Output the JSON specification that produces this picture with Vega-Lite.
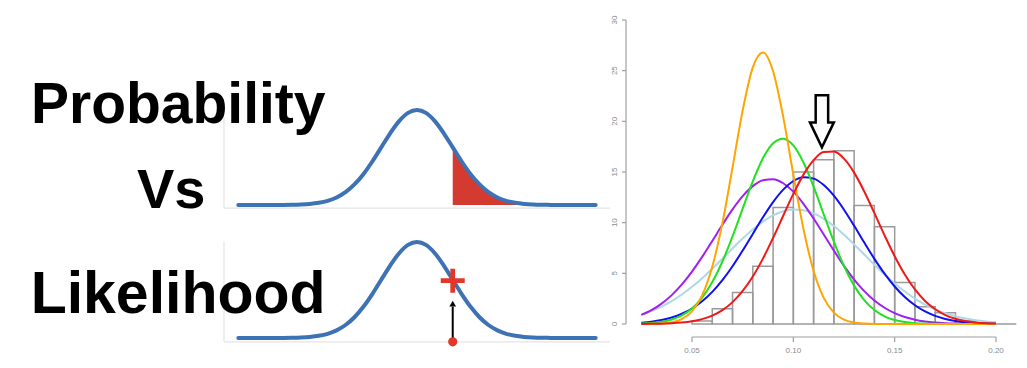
{
  "$schema": "https://vega.github.io/schema/vega-lite/v6.json",
  "width": 1027,
  "height": 368,
  "autosize": {"type": "fit", "contains": "padding"},
  "padding": 0,
  "background": "white",
  "config": {
    "view": {"stroke": null},
    "axis": {"grid": false}
  },
  "datasets": {
    "normal": [
      {"z": -5, "p": 0}, {"z": -4.75, "p": 0}, {"z": -4.5, "p": 0}, {"z": -4.25, "p": 0.0001},
      {"z": -4, "p": 0.0001}, {"z": -3.75, "p": 0.0004}, {"z": -3.5, "p": 0.0009}, {"z": -3.25, "p": 0.002},
      {"z": -3, "p": 0.0044}, {"z": -2.75, "p": 0.0091}, {"z": -2.5, "p": 0.0175}, {"z": -2.25, "p": 0.0317},
      {"z": -2, "p": 0.054}, {"z": -1.75, "p": 0.0863}, {"z": -1.5, "p": 0.1295}, {"z": -1.25, "p": 0.1826},
      {"z": -1, "p": 0.242}, {"z": -0.75, "p": 0.3011}, {"z": -0.5, "p": 0.3521}, {"z": -0.25, "p": 0.3867},
      {"z": 0, "p": 0.3989},
      {"z": 0.25, "p": 0.3867}, {"z": 0.5, "p": 0.3521}, {"z": 0.75, "p": 0.3011}, {"z": 1, "p": 0.242},
      {"z": 1.25, "p": 0.1826}, {"z": 1.5, "p": 0.1295}, {"z": 1.75, "p": 0.0863}, {"z": 2, "p": 0.054},
      {"z": 2.25, "p": 0.0317}, {"z": 2.5, "p": 0.0175}, {"z": 2.75, "p": 0.0091}, {"z": 3, "p": 0.0044},
      {"z": 3.25, "p": 0.002}, {"z": 3.5, "p": 0.0009}, {"z": 3.75, "p": 0.0004}, {"z": 4, "p": 0.0001},
      {"z": 4.25, "p": 0.0001}, {"z": 4.5, "p": 0}, {"z": 4.75, "p": 0}, {"z": 5, "p": 0}
    ],
    "hist": [
      {"x0": 0.05, "x1": 0.06, "d": 0.3}, {"x0": 0.06, "x1": 0.07, "d": 1.5},
      {"x0": 0.07, "x1": 0.08, "d": 3.1}, {"x0": 0.08, "x1": 0.09, "d": 5.7},
      {"x0": 0.09, "x1": 0.10, "d": 11.5}, {"x0": 0.10, "x1": 0.11, "d": 15.0},
      {"x0": 0.11, "x1": 0.12, "d": 16.2}, {"x0": 0.12, "x1": 0.13, "d": 17.1},
      {"x0": 0.13, "x1": 0.14, "d": 11.7}, {"x0": 0.14, "x1": 0.15, "d": 9.6},
      {"x0": 0.15, "x1": 0.16, "d": 4.1}, {"x0": 0.16, "x1": 0.17, "d": 1.7},
      {"x0": 0.17, "x1": 0.18, "d": 1.1}, {"x0": 0.18, "x1": 0.19, "d": 0.3},
      {"x0": 0.19, "x1": 0.20, "d": 0}, {"x0": 0.20, "x1": 0.21, "d": 0}
    ],
    "xticks": [
      {"v": 0.05, "lab": "0.05"}, {"v": 0.10, "lab": "0.10"}, {"v": 0.15, "lab": "0.15"}, {"v": 0.20, "lab": "0.20"}
    ],
    "yticks": [
      {"v": 0, "lab": "0"}, {"v": 5, "lab": "5"}, {"v": 10, "lab": "10"}, {"v": 15, "lab": "15"},
      {"v": 20, "lab": "20"}, {"v": 25, "lab": "25"}, {"v": 30, "lab": "30"}
    ],
    "fits": [
      {"x": 0.025, "orange": 0.003, "green": 0.044, "red": 0.007, "blue": 0.133, "purple": 0.900, "lightblue": 0.930},
      {"x": 0.030, "orange": 0.013, "green": 0.101, "red": 0.016, "blue": 0.232, "purple": 1.368, "lightblue": 1.278},
      {"x": 0.035, "orange": 0.049, "green": 0.219, "red": 0.034, "blue": 0.392, "purple": 2.008, "lightblue": 1.718},
      {"x": 0.040, "orange": 0.164, "green": 0.447, "red": 0.071, "blue": 0.640, "purple": 2.850, "lightblue": 2.260},
      {"x": 0.045, "orange": 0.481, "green": 0.856, "red": 0.141, "blue": 1.008, "purple": 3.905, "lightblue": 2.912},
      {"x": 0.050, "orange": 1.241, "green": 1.540, "red": 0.266, "blue": 1.530, "purple": 5.172, "lightblue": 3.669},
      {"x": 0.055, "orange": 2.825, "green": 2.604, "red": 0.482, "blue": 2.243, "purple": 6.621, "lightblue": 4.525},
      {"x": 0.060, "orange": 5.655, "green": 4.134, "red": 0.830, "blue": 3.174, "purple": 8.192, "lightblue": 5.461},
      {"x": 0.065, "orange": 9.959, "green": 6.167, "red": 1.370, "blue": 4.328, "purple": 9.791, "lightblue": 6.450},
      {"x": 0.070, "orange": 15.45, "green": 8.641, "red": 2.160, "blue": 5.704, "purple": 11.31, "lightblue": 7.456},
      {"x": 0.075, "orange": 21.08, "green": 11.38, "red": 3.258, "blue": 7.253, "purple": 12.62, "lightblue": 8.433},
      {"x": 0.080, "orange": 25.33, "green": 14.07, "red": 4.689, "blue": 8.891, "purple": 13.61, "lightblue": 9.335},
      {"x": 0.085, "orange": 26.79, "green": 16.35, "red": 6.454, "blue": 10.53, "purple": 14.18, "lightblue": 10.11},
      {"x": 0.090, "orange": 24.95, "green": 17.84, "red": 8.494, "blue": 12.03, "purple": 14.28, "lightblue": 10.72},
      {"x": 0.095, "orange": 20.44, "green": 18.29, "red": 10.68, "blue": 13.26, "purple": 13.89, "lightblue": 11.13},
      {"x": 0.100, "orange": 14.75, "green": 17.62, "red": 12.84, "blue": 14.11, "purple": 13.06, "lightblue": 11.30},
      {"x": 0.105, "orange": 9.37, "green": 15.94, "red": 14.74, "blue": 14.49, "purple": 11.86, "lightblue": 11.22},
      {"x": 0.110, "orange": 5.23, "green": 13.55, "red": 16.18, "blue": 14.35, "purple": 10.41, "lightblue": 10.91},
      {"x": 0.115, "orange": 2.58, "green": 10.82, "red": 16.98, "blue": 13.72, "purple": 8.834, "lightblue": 10.38},
      {"x": 0.120, "orange": 1.12, "green": 8.118, "red": 17.02, "blue": 12.66, "purple": 7.240, "lightblue": 9.666},
      {"x": 0.125, "orange": 0.425, "green": 5.720, "red": 16.32, "blue": 11.28, "purple": 5.734, "lightblue": 8.807},
      {"x": 0.130, "orange": 0.143, "green": 3.788, "red": 14.94, "blue": 9.687, "purple": 4.390, "lightblue": 7.854},
      {"x": 0.135, "orange": 0.042, "green": 2.355, "red": 13.08, "blue": 8.033, "purple": 3.245, "lightblue": 6.853},
      {"x": 0.140, "orange": 0.011, "green": 1.376, "red": 10.94, "blue": 6.429, "purple": 2.319, "lightblue": 5.853},
      {"x": 0.145, "orange": 0.003, "green": 0.755, "red": 8.753, "blue": 4.965, "purple": 1.602, "lightblue": 4.892},
      {"x": 0.150, "orange": 0.001, "green": 0.389, "red": 6.688, "blue": 3.699, "purple": 1.068, "lightblue": 4.001},
      {"x": 0.155, "orange": 0, "green": 0.189, "red": 4.886, "blue": 2.659, "purple": 0.689, "lightblue": 3.202},
      {"x": 0.160, "orange": 0, "green": 0.086, "red": 3.410, "blue": 1.846, "purple": 0.429, "lightblue": 2.509},
      {"x": 0.165, "orange": 0, "green": 0.037, "red": 2.273, "blue": 1.236, "purple": 0.258, "lightblue": 1.922},
      {"x": 0.170, "orange": 0, "green": 0.015, "red": 1.451, "blue": 0.799, "purple": 0.150, "lightblue": 1.443},
      {"x": 0.175, "orange": 0, "green": 0.006, "red": 0.884, "blue": 0.499, "purple": 0.084, "lightblue": 1.058},
      {"x": 0.180, "orange": 0, "green": 0.002, "red": 0.515, "blue": 0.300, "purple": 0.046, "lightblue": 0.759},
      {"x": 0.185, "orange": 0, "green": 0, "red": 0.286, "blue": 0.174, "purple": 0.024, "lightblue": 0.534},
      {"x": 0.190, "orange": 0, "green": 0, "red": 0.153, "blue": 0.098, "purple": 0.012, "lightblue": 0.367},
      {"x": 0.195, "orange": 0, "green": 0, "red": 0.078, "blue": 0.053, "purple": 0.006, "lightblue": 0.247},
      {"x": 0.200, "orange": 0, "green": 0, "red": 0.038, "blue": 0.028, "purple": 0.003, "lightblue": 0.163}
    ]
  },
  "layer": [
    {
      "layer": [
        {
          "data": {"values": [{}]},
          "mark": {"type": "rule", "color": "#e4e4e4", "strokeWidth": 1.2},
          "encoding": {
            "x": {"datum": -5.4, "type": "quantitative", "scale": {"domain": [-11.667, 17.068], "nice": false, "zero": false}, "axis": null},
            "y": {"datum": -0.013, "type": "quantitative", "scale": {"domain": [-0.6843, 0.8606], "nice": false, "zero": false}, "axis": null},
            "y2": {"datum": 0.37}
          }
        },
        {
          "data": {"values": [{}]},
          "mark": {"type": "rule", "color": "#e4e4e4", "strokeWidth": 1.2},
          "encoding": {
            "x": {"datum": -5.4, "type": "quantitative", "scale": {"domain": [-11.667, 17.068], "nice": false, "zero": false}, "axis": null},
            "x2": {"datum": 5.4},
            "y": {"datum": -0.013, "type": "quantitative", "scale": {"domain": [-0.6843, 0.8606], "nice": false, "zero": false}, "axis": null}
          }
        },
        {
          "data": {"name": "normal"},
          "transform": [{"filter": "datum.z >= 1"}],
          "mark": {"type": "area", "color": "#d43a2f", "interpolate": "monotone", "opacity": 1},
          "encoding": {
            "x": {"field": "z", "type": "quantitative", "scale": {"domain": [-11.667, 17.068], "nice": false, "zero": false}, "axis": null},
            "y": {"field": "p", "type": "quantitative", "scale": {"domain": [-0.6843, 0.8606], "nice": false, "zero": false}, "axis": null},
            "y2": {"datum": 0}
          }
        },
        {
          "data": {"name": "normal"},
          "mark": {"type": "line", "color": "#3d72b4", "strokeWidth": 4, "interpolate": "monotone", "strokeCap": "round"},
          "encoding": {
            "x": {"field": "z", "type": "quantitative", "scale": {"domain": [-11.667, 17.068], "nice": false, "zero": false}, "axis": null},
            "y": {"field": "p", "type": "quantitative", "scale": {"domain": [-0.6843, 0.8606], "nice": false, "zero": false}, "axis": null}
          }
        },
        {
          "data": {"values": [{}]},
          "mark": {"type": "text", "text": "Probability", "font": "Liberation Sans", "fontWeight": "bold", "fontSize": 57, "align": "left", "baseline": "alphabetic", "color": "#000000"},
          "encoding": {
            "x": {"datum": -10.8, "type": "quantitative", "scale": {"domain": [-11.667, 17.068], "nice": false, "zero": false}, "axis": null},
            "y": {"datum": 0.3443, "type": "quantitative", "scale": {"domain": [-0.6843, 0.8606], "nice": false, "zero": false}, "axis": null}
          }
        },
        {
          "data": {"values": [{}]},
          "mark": {"type": "text", "text": "Vs", "font": "Liberation Sans", "fontWeight": "bold", "fontSize": 56, "align": "left", "baseline": "alphabetic", "color": "#000000"},
          "encoding": {
            "x": {"datum": -7.834, "type": "quantitative", "scale": {"domain": [-11.667, 17.068], "nice": false, "zero": false}, "axis": null},
            "y": {"datum": -0.0126, "type": "quantitative", "scale": {"domain": [-0.6843, 0.8606], "nice": false, "zero": false}, "axis": null}
          }
        }
      ]
    },
    {
      "layer": [
        {
          "data": {"values": [{}]},
          "mark": {"type": "rule", "color": "#e4e4e4", "strokeWidth": 1.2},
          "encoding": {
            "x": {"datum": -5.4, "type": "quantitative", "scale": {"domain": [-11.667, 17.068], "nice": false, "zero": false}, "axis": null},
            "y": {"datum": -0.016, "type": "quantitative", "scale": {"domain": [-0.1246, 1.4042], "nice": false, "zero": false}, "axis": null},
            "y2": {"datum": 0.4}
          }
        },
        {
          "data": {"values": [{}]},
          "mark": {"type": "rule", "color": "#e4e4e4", "strokeWidth": 1.2},
          "encoding": {
            "x": {"datum": -5.4, "type": "quantitative", "scale": {"domain": [-11.667, 17.068], "nice": false, "zero": false}, "axis": null},
            "x2": {"datum": 5.4},
            "y": {"datum": -0.016, "type": "quantitative", "scale": {"domain": [-0.1246, 1.4042], "nice": false, "zero": false}, "axis": null}
          }
        },
        {
          "data": {"name": "normal"},
          "mark": {"type": "line", "color": "#3d72b4", "strokeWidth": 4, "interpolate": "monotone", "strokeCap": "round"},
          "encoding": {
            "x": {"field": "z", "type": "quantitative", "scale": {"domain": [-11.667, 17.068], "nice": false, "zero": false}, "axis": null},
            "y": {"field": "p", "type": "quantitative", "scale": {"domain": [-0.1246, 1.4042], "nice": false, "zero": false}, "axis": null}
          }
        },
        {
          "data": {"values": [{}]},
          "mark": {"type": "rule", "color": "#000000", "strokeWidth": 2},
          "encoding": {
            "x": {"datum": 1, "type": "quantitative", "scale": {"domain": [-11.667, 17.068], "nice": false, "zero": false}, "axis": null},
            "y": {"datum": -0.012, "type": "quantitative", "scale": {"domain": [-0.1246, 1.4042], "nice": false, "zero": false}, "axis": null},
            "y2": {"datum": 0.13}
          }
        },
        {
          "data": {"values": [{}]},
          "mark": {"type": "point", "shape": "triangle-up", "filled": true, "color": "#000000", "size": 45, "opacity": 1},
          "encoding": {
            "x": {"datum": 1, "type": "quantitative", "scale": {"domain": [-11.667, 17.068], "nice": false, "zero": false}, "axis": null},
            "y": {"datum": 0.143, "type": "quantitative", "scale": {"domain": [-0.1246, 1.4042], "nice": false, "zero": false}, "axis": null}
          }
        },
        {
          "data": {"values": [{}]},
          "mark": {"type": "point", "shape": "circle", "filled": true, "color": "#e0392b", "size": 85, "opacity": 1},
          "encoding": {
            "x": {"datum": 1, "type": "quantitative", "scale": {"domain": [-11.667, 17.068], "nice": false, "zero": false}, "axis": null},
            "y": {"datum": -0.016, "type": "quantitative", "scale": {"domain": [-0.1246, 1.4042], "nice": false, "zero": false}, "axis": null}
          }
        },
        {
          "data": {"values": [{}]},
          "mark": {"type": "point", "shape": "M-1,-0.2H-0.2V-1H0.2V-0.2H1V0.2H0.2V1H-0.2V0.2H-1Z", "filled": true, "color": "#e0392b", "size": 576, "opacity": 1, "strokeWidth": 0},
          "encoding": {
            "x": {"datum": 1, "type": "quantitative", "scale": {"domain": [-11.667, 17.068], "nice": false, "zero": false}, "axis": null},
            "y": {"datum": 0.238, "type": "quantitative", "scale": {"domain": [-0.1246, 1.4042], "nice": false, "zero": false}, "axis": null}
          }
        },
        {
          "data": {"values": [{}]},
          "mark": {"type": "text", "text": "Likelihood", "font": "Liberation Sans", "fontWeight": "bold", "fontSize": 59, "align": "left", "baseline": "alphabetic", "color": "#000000"},
          "encoding": {
            "x": {"datum": -10.81, "type": "quantitative", "scale": {"domain": [-11.667, 17.068], "nice": false, "zero": false}, "axis": null},
            "y": {"datum": 0.1039, "type": "quantitative", "scale": {"domain": [-0.1246, 1.4042], "nice": false, "zero": false}, "axis": null}
          }
        }
      ]
    },
    {
      "layer": [
        {
          "data": {"name": "hist"},
          "mark": {"type": "bar", "fill": "transparent", "stroke": "#9a9a9a", "strokeWidth": 1.5},
          "encoding": {
            "x": {"field": "x0", "type": "quantitative", "scale": {"domain": [-0.29144, 0.21529], "nice": false, "zero": false}, "axis": null},
            "x2": {"field": "x1"},
            "y": {"field": "d", "type": "quantitative", "scale": {"domain": [-4.342, 31.974], "nice": false, "zero": false}, "axis": null},
            "y2": {"datum": 0}
          }
        },
        {
          "data": {"values": [{}]},
          "mark": {"type": "rule", "color": "#a0a0a0", "strokeWidth": 1.2},
          "encoding": {
            "x": {"datum": 0.05, "type": "quantitative", "scale": {"domain": [-0.29144, 0.21529], "nice": false, "zero": false}, "axis": null},
            "x2": {"datum": 0.2},
            "y": {"datum": -1.283, "type": "quantitative", "scale": {"domain": [-4.342, 31.974], "nice": false, "zero": false}, "axis": null}
          }
        },
        {
          "data": {"values": [{}]},
          "mark": {"type": "rule", "color": "#a0a0a0", "strokeWidth": 1.2},
          "encoding": {
            "x": {"datum": 0.01744, "type": "quantitative", "scale": {"domain": [-0.29144, 0.21529], "nice": false, "zero": false}, "axis": null},
            "y": {"datum": 0, "type": "quantitative", "scale": {"domain": [-4.342, 31.974], "nice": false, "zero": false}, "axis": null},
            "y2": {"datum": 30}
          }
        },
        {
          "data": {"name": "xticks"},
          "mark": {"type": "rule", "color": "#a0a0a0", "strokeWidth": 1.2},
          "encoding": {
            "x": {"field": "v", "type": "quantitative", "scale": {"domain": [-0.29144, 0.21529], "nice": false, "zero": false}, "axis": null},
            "y": {"datum": -1.283, "type": "quantitative", "scale": {"domain": [-4.342, 31.974], "nice": false, "zero": false}, "axis": null},
            "y2": {"datum": -1.776}
          }
        },
        {
          "data": {"name": "xticks"},
          "mark": {"type": "text", "font": "Liberation Sans", "fontSize": 8, "color": "#8a8a8a", "align": "center", "baseline": "middle"},
          "encoding": {
            "x": {"field": "v", "type": "quantitative", "scale": {"domain": [-0.29144, 0.21529], "nice": false, "zero": false}, "axis": null},
            "y": {"datum": -2.64, "type": "quantitative", "scale": {"domain": [-4.342, 31.974], "nice": false, "zero": false}, "axis": null},
            "text": {"field": "lab"}
          }
        },
        {
          "data": {"name": "yticks"},
          "mark": {"type": "rule", "color": "#a0a0a0", "strokeWidth": 1.2},
          "encoding": {
            "x": {"datum": 0.01744, "type": "quantitative", "scale": {"domain": [-0.29144, 0.21529], "nice": false, "zero": false}, "axis": null},
            "x2": {"datum": 0.01546},
            "y": {"field": "v", "type": "quantitative", "scale": {"domain": [-4.342, 31.974], "nice": false, "zero": false}, "axis": null}
          }
        },
        {
          "data": {"name": "yticks"},
          "mark": {"type": "text", "font": "Liberation Sans", "fontSize": 8, "color": "#8a8a8a", "align": "center", "baseline": "middle", "angle": 270},
          "encoding": {
            "x": {"datum": 0.0118, "type": "quantitative", "scale": {"domain": [-0.29144, 0.21529], "nice": false, "zero": false}, "axis": null},
            "y": {"field": "v", "type": "quantitative", "scale": {"domain": [-4.342, 31.974], "nice": false, "zero": false}, "axis": null},
            "text": {"field": "lab"}
          }
        },
        {
          "data": {"name": "fits"},
          "mark": {"type": "line", "color": "#add8e6", "strokeWidth": 2, "interpolate": "monotone"},
          "encoding": {
            "x": {"field": "x", "type": "quantitative", "scale": {"domain": [-0.29144, 0.21529], "nice": false, "zero": false}, "axis": null},
            "y": {"field": "lightblue", "type": "quantitative", "scale": {"domain": [-4.342, 31.974], "nice": false, "zero": false}, "axis": null}
          }
        },
        {
          "data": {"name": "fits"},
          "mark": {"type": "line", "color": "#a020f0", "strokeWidth": 2, "interpolate": "monotone"},
          "encoding": {
            "x": {"field": "x", "type": "quantitative", "scale": {"domain": [-0.29144, 0.21529], "nice": false, "zero": false}, "axis": null},
            "y": {"field": "purple", "type": "quantitative", "scale": {"domain": [-4.342, 31.974], "nice": false, "zero": false}, "axis": null}
          }
        },
        {
          "data": {"name": "fits"},
          "mark": {"type": "line", "color": "#1010f0", "strokeWidth": 2, "interpolate": "monotone"},
          "encoding": {
            "x": {"field": "x", "type": "quantitative", "scale": {"domain": [-0.29144, 0.21529], "nice": false, "zero": false}, "axis": null},
            "y": {"field": "blue", "type": "quantitative", "scale": {"domain": [-4.342, 31.974], "nice": false, "zero": false}, "axis": null}
          }
        },
        {
          "data": {"name": "fits"},
          "mark": {"type": "line", "color": "#22e022", "strokeWidth": 2, "interpolate": "monotone"},
          "encoding": {
            "x": {"field": "x", "type": "quantitative", "scale": {"domain": [-0.29144, 0.21529], "nice": false, "zero": false}, "axis": null},
            "y": {"field": "green", "type": "quantitative", "scale": {"domain": [-4.342, 31.974], "nice": false, "zero": false}, "axis": null}
          }
        },
        {
          "data": {"name": "fits"},
          "mark": {"type": "line", "color": "#ffa500", "strokeWidth": 2, "interpolate": "monotone"},
          "encoding": {
            "x": {"field": "x", "type": "quantitative", "scale": {"domain": [-0.29144, 0.21529], "nice": false, "zero": false}, "axis": null},
            "y": {"field": "orange", "type": "quantitative", "scale": {"domain": [-4.342, 31.974], "nice": false, "zero": false}, "axis": null}
          }
        },
        {
          "data": {"name": "fits"},
          "mark": {"type": "line", "color": "#f01818", "strokeWidth": 2, "interpolate": "monotone"},
          "encoding": {
            "x": {"field": "x", "type": "quantitative", "scale": {"domain": [-0.29144, 0.21529], "nice": false, "zero": false}, "axis": null},
            "y": {"field": "red", "type": "quantitative", "scale": {"domain": [-4.342, 31.974], "nice": false, "zero": false}, "axis": null}
          }
        },
        {
          "data": {"values": [{}]},
          "mark": {"type": "point", "shape": "M-0.24,-1L0.24,-1L0.24,0.04L0.46,0.04L0,1L-0.46,0.04L-0.24,0.04Z", "filled": false, "fill": "white", "fillOpacity": 1, "stroke": "#000000", "strokeWidth": 2.5, "strokeJoin": "miter", "size": 2704, "opacity": 1},
          "encoding": {
            "x": {"datum": 0.1141, "type": "quantitative", "scale": {"domain": [-0.29144, 0.21529], "nice": false, "zero": false}, "axis": null},
            "y": {"datum": 20.0, "type": "quantitative", "scale": {"domain": [-4.342, 31.974], "nice": false, "zero": false}, "axis": null}
          }
        }
      ]
    }
  ],
  "resolve": {
    "scale": {"x": "independent", "y": "independent"}
  }
}
